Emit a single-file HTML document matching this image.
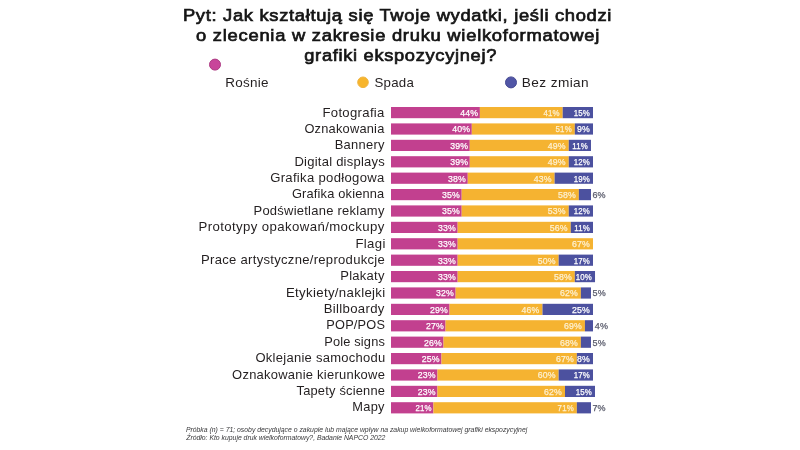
<!DOCTYPE html>
<html><head><meta charset="utf-8"><style>
*{margin:0;padding:0}
html,body{width:800px;height:450px;background:#fff;overflow:hidden}
svg{display:block}
text{font-family:"Liberation Sans",sans-serif}
</style></head><body>
<svg width="800" height="450" viewBox="0 0 800 450">
<rect width="800" height="450" fill="#fff"/>
<circle cx="215" cy="64.6" r="5.5" fill="#c8459a" stroke="#ad3a83" stroke-width="1"/>
<circle cx="363" cy="82.3" r="5.3" fill="#f7b52c" stroke="#f0b440" stroke-width="1"/>
<circle cx="511" cy="82.4" r="5.5" fill="#5156a6" stroke="#474b94" stroke-width="1"/>
<rect x="391.00" y="107.00" width="88.88" height="11.20" fill="#c2408f"/>
<rect x="479.88" y="107.00" width="82.82" height="11.20" fill="#f5b331"/>
<rect x="562.70" y="107.00" width="30.30" height="11.20" fill="#4c519f"/>
<rect x="391.00" y="123.40" width="80.80" height="11.20" fill="#c2408f"/>
<rect x="471.80" y="123.40" width="103.02" height="11.20" fill="#f5b331"/>
<rect x="574.82" y="123.40" width="18.18" height="11.20" fill="#4c519f"/>
<rect x="391.00" y="139.80" width="78.78" height="11.20" fill="#c2408f"/>
<rect x="469.78" y="139.80" width="98.98" height="11.20" fill="#f5b331"/>
<rect x="568.76" y="139.80" width="22.22" height="11.20" fill="#4c519f"/>
<rect x="391.00" y="156.20" width="78.78" height="11.20" fill="#c2408f"/>
<rect x="469.78" y="156.20" width="98.98" height="11.20" fill="#f5b331"/>
<rect x="568.76" y="156.20" width="24.24" height="11.20" fill="#4c519f"/>
<rect x="391.00" y="172.60" width="76.76" height="11.20" fill="#c2408f"/>
<rect x="467.76" y="172.60" width="86.86" height="11.20" fill="#f5b331"/>
<rect x="554.62" y="172.60" width="38.38" height="11.20" fill="#4c519f"/>
<rect x="391.00" y="189.00" width="70.70" height="11.20" fill="#c2408f"/>
<rect x="461.70" y="189.00" width="117.16" height="11.20" fill="#f5b331"/>
<rect x="578.86" y="189.00" width="12.12" height="11.20" fill="#4c519f"/>
<rect x="391.00" y="205.40" width="70.70" height="11.20" fill="#c2408f"/>
<rect x="461.70" y="205.40" width="107.06" height="11.20" fill="#f5b331"/>
<rect x="568.76" y="205.40" width="24.24" height="11.20" fill="#4c519f"/>
<rect x="391.00" y="221.80" width="66.66" height="11.20" fill="#c2408f"/>
<rect x="457.66" y="221.80" width="113.12" height="11.20" fill="#f5b331"/>
<rect x="570.78" y="221.80" width="22.22" height="11.20" fill="#4c519f"/>
<rect x="391.00" y="238.20" width="66.66" height="11.20" fill="#c2408f"/>
<rect x="457.66" y="238.20" width="135.34" height="11.20" fill="#f5b331"/>
<rect x="391.00" y="254.60" width="66.66" height="11.20" fill="#c2408f"/>
<rect x="457.66" y="254.60" width="101.00" height="11.20" fill="#f5b331"/>
<rect x="558.66" y="254.60" width="34.34" height="11.20" fill="#4c519f"/>
<rect x="391.00" y="271.00" width="66.66" height="11.20" fill="#c2408f"/>
<rect x="457.66" y="271.00" width="117.16" height="11.20" fill="#f5b331"/>
<rect x="574.82" y="271.00" width="20.20" height="11.20" fill="#4c519f"/>
<rect x="391.00" y="287.40" width="64.64" height="11.20" fill="#c2408f"/>
<rect x="455.64" y="287.40" width="125.24" height="11.20" fill="#f5b331"/>
<rect x="580.88" y="287.40" width="10.10" height="11.20" fill="#4c519f"/>
<rect x="391.00" y="303.80" width="58.58" height="11.20" fill="#c2408f"/>
<rect x="449.58" y="303.80" width="92.92" height="11.20" fill="#f5b331"/>
<rect x="542.50" y="303.80" width="50.50" height="11.20" fill="#4c519f"/>
<rect x="391.00" y="320.20" width="54.54" height="11.20" fill="#c2408f"/>
<rect x="445.54" y="320.20" width="139.38" height="11.20" fill="#f5b331"/>
<rect x="584.92" y="320.20" width="8.08" height="11.20" fill="#4c519f"/>
<rect x="391.00" y="336.60" width="52.52" height="11.20" fill="#c2408f"/>
<rect x="443.52" y="336.60" width="137.36" height="11.20" fill="#f5b331"/>
<rect x="580.88" y="336.60" width="10.10" height="11.20" fill="#4c519f"/>
<rect x="391.00" y="353.00" width="50.50" height="11.20" fill="#c2408f"/>
<rect x="441.50" y="353.00" width="135.34" height="11.20" fill="#f5b331"/>
<rect x="576.84" y="353.00" width="16.16" height="11.20" fill="#4c519f"/>
<rect x="391.00" y="369.40" width="46.46" height="11.20" fill="#c2408f"/>
<rect x="437.46" y="369.40" width="121.20" height="11.20" fill="#f5b331"/>
<rect x="558.66" y="369.40" width="34.34" height="11.20" fill="#4c519f"/>
<rect x="391.00" y="385.80" width="46.46" height="11.20" fill="#c2408f"/>
<rect x="437.46" y="385.80" width="127.54" height="11.20" fill="#f5b331"/>
<rect x="565.00" y="385.80" width="30.00" height="11.20" fill="#4c519f"/>
<rect x="391.00" y="402.20" width="42.42" height="11.20" fill="#c2408f"/>
<rect x="433.42" y="402.20" width="143.42" height="11.20" fill="#f5b331"/>
<rect x="576.84" y="402.20" width="14.14" height="11.20" fill="#4c519f"/>
<text transform="translate(182.91 20.90) scale(1.0943 1)" font-size="16.80" fill="#151515" letter-spacing="0.618" stroke="#151515" stroke-width="0.70">Pyt: Jak kształtują się Twoje wydatki, jeśli chodzi</text>
<text transform="translate(196.08 41.00) scale(1.0936 1)" font-size="16.80" fill="#151515" letter-spacing="0.674" stroke="#151515" stroke-width="0.70">o zlecenia w zakresie druku wielkoformatowej</text>
<text transform="translate(304.28 61.00) scale(1.0881 1)" font-size="16.80" fill="#151515" letter-spacing="0.627" stroke="#151515" stroke-width="0.70">grafiki ekspozycyjnej?</text>
<text transform="translate(225.15 86.80) scale(1.0369 1)" font-size="13.00" fill="#231f20" letter-spacing="0.277">Rośnie</text>
<text transform="translate(374.48 86.60) scale(1.0232 1)" font-size="13.00" fill="#231f20" letter-spacing="0.212">Spada</text>
<text transform="translate(521.83 86.50) scale(1.0514 1)" font-size="13.00" fill="#231f20" letter-spacing="0.360">Bez zmian</text>
<text transform="translate(322.47 116.60) scale(1.0507 1)" font-size="12.50" fill="#231f20" letter-spacing="0.297">Fotografia</text>
<text transform="translate(304.40 132.97) scale(1.0284 1)" font-size="12.50" fill="#231f20" letter-spacing="0.208">Oznakowania</text>
<text transform="translate(334.74 149.34) scale(1.0348 1)" font-size="12.50" fill="#231f20" letter-spacing="0.255">Bannery</text>
<text transform="translate(294.48 165.71) scale(1.0427 1)" font-size="12.50" fill="#231f20" letter-spacing="0.224">Digital displays</text>
<text transform="translate(270.14 182.08) scale(1.0483 1)" font-size="12.50" fill="#231f20" letter-spacing="0.299">Grafika podłogowa</text>
<text transform="translate(291.90 198.45) scale(1.0285 1)" font-size="12.50" fill="#231f20" letter-spacing="0.172">Grafika okienna</text>
<text transform="translate(253.49 214.82) scale(1.0389 1)" font-size="12.50" fill="#231f20" letter-spacing="0.238">Podświetlane reklamy</text>
<text transform="translate(198.47 231.19) scale(1.0580 1)" font-size="12.50" fill="#231f20" letter-spacing="0.363">Prototypy opakowań/mockupy</text>
<text transform="translate(355.47 247.56) scale(1.0535 1)" font-size="12.50" fill="#231f20" letter-spacing="0.321">Flagi</text>
<text transform="translate(201.08 263.93) scale(1.0473 1)" font-size="12.50" fill="#231f20" letter-spacing="0.269">Prace artystyczne/reprodukcje</text>
<text transform="translate(340.23 280.30) scale(1.0404 1)" font-size="12.50" fill="#231f20" letter-spacing="0.259">Plakaty</text>
<text transform="translate(285.97 296.67) scale(1.0596 1)" font-size="12.50" fill="#231f20" letter-spacing="0.306">Etykiety/naklejki</text>
<text transform="translate(323.67 313.04) scale(1.0546 1)" font-size="12.50" fill="#231f20" letter-spacing="0.310">Billboardy</text>
<text transform="translate(326.30 329.41) scale(1.0222 1)" font-size="12.50" fill="#231f20" letter-spacing="0.198">POP/POS</text>
<text transform="translate(324.20 345.78) scale(1.0266 1)" font-size="12.50" fill="#231f20" letter-spacing="0.162">Pole signs</text>
<text transform="translate(255.49 362.15) scale(1.0399 1)" font-size="12.50" fill="#231f20" letter-spacing="0.253">Oklejanie samochodu</text>
<text transform="translate(232.09 378.52) scale(1.0370 1)" font-size="12.50" fill="#231f20" letter-spacing="0.240">Oznakowanie kierunkowe</text>
<text transform="translate(296.50 394.89) scale(1.0309 1)" font-size="12.50" fill="#231f20" letter-spacing="0.191">Tapety ścienne</text>
<text transform="translate(352.30 411.26) scale(1.0272 1)" font-size="12.50" fill="#231f20" letter-spacing="0.261">Mapy</text>
<text transform="translate(185.89 431.75) scale(0.9968 1)" font-size="6.90" fill="#38383a" letter-spacing="-0.010" font-style="italic">Próbka (n) = 71; osoby decydujące o zakupie lub mające wpływ na zakup wielkoformatowej grafiki ekspozycyjnej</text>
<text transform="translate(186.21 439.50) scale(0.9966 1)" font-size="6.90" fill="#38383a" letter-spacing="-0.012" font-style="italic">Źródło: Kto kupuje druk wielkoformatowy?, Badanie NAPCO 2022</text>
<text x="460.24" y="115.90" font-size="9.0" fill="#ffffff" stroke="#ffffff" stroke-width="0.25" letter-spacing="0.15" textLength="17.92" lengthAdjust="spacingAndGlyphs">44%</text>
<text x="543.48" y="115.90" font-size="9.0" fill="#fdf0d0" stroke="#fdf0d0" stroke-width="0.25" letter-spacing="0.15" textLength="16.18" lengthAdjust="spacingAndGlyphs">41%</text>
<text x="573.78" y="115.90" font-size="9.0" fill="#ffffff" stroke="#ffffff" stroke-width="0.25" letter-spacing="0.15" textLength="16.18" lengthAdjust="spacingAndGlyphs">15%</text>
<text x="452.16" y="132.30" font-size="9.0" fill="#ffffff" stroke="#ffffff" stroke-width="0.25" letter-spacing="0.15" textLength="17.92" lengthAdjust="spacingAndGlyphs">40%</text>
<text x="555.60" y="132.30" font-size="9.0" fill="#fdf0d0" stroke="#fdf0d0" stroke-width="0.25" letter-spacing="0.15" textLength="16.18" lengthAdjust="spacingAndGlyphs">51%</text>
<text x="577.07" y="132.30" font-size="9.0" fill="#ffffff" stroke="#ffffff" stroke-width="0.25" letter-spacing="0.15" textLength="12.92" lengthAdjust="spacingAndGlyphs">9%</text>
<text x="450.14" y="148.70" font-size="9.0" fill="#ffffff" stroke="#ffffff" stroke-width="0.25" letter-spacing="0.15" textLength="17.92" lengthAdjust="spacingAndGlyphs">39%</text>
<text x="547.82" y="148.70" font-size="9.0" fill="#fdf0d0" stroke="#fdf0d0" stroke-width="0.25" letter-spacing="0.15" textLength="17.92" lengthAdjust="spacingAndGlyphs">49%</text>
<text x="572.35" y="148.70" font-size="9.0" fill="#ffffff" stroke="#ffffff" stroke-width="0.25" letter-spacing="0.15" textLength="15.59" lengthAdjust="spacingAndGlyphs">11%</text>
<text x="450.14" y="165.10" font-size="9.0" fill="#ffffff" stroke="#ffffff" stroke-width="0.25" letter-spacing="0.15" textLength="17.92" lengthAdjust="spacingAndGlyphs">39%</text>
<text x="547.82" y="165.10" font-size="9.0" fill="#fdf0d0" stroke="#fdf0d0" stroke-width="0.25" letter-spacing="0.15" textLength="17.92" lengthAdjust="spacingAndGlyphs">49%</text>
<text x="573.78" y="165.10" font-size="9.0" fill="#ffffff" stroke="#ffffff" stroke-width="0.25" letter-spacing="0.15" textLength="16.18" lengthAdjust="spacingAndGlyphs">12%</text>
<text x="448.12" y="181.50" font-size="9.0" fill="#ffffff" stroke="#ffffff" stroke-width="0.25" letter-spacing="0.15" textLength="17.92" lengthAdjust="spacingAndGlyphs">38%</text>
<text x="533.68" y="181.50" font-size="9.0" fill="#fdf0d0" stroke="#fdf0d0" stroke-width="0.25" letter-spacing="0.15" textLength="17.92" lengthAdjust="spacingAndGlyphs">43%</text>
<text x="573.78" y="181.50" font-size="9.0" fill="#ffffff" stroke="#ffffff" stroke-width="0.25" letter-spacing="0.15" textLength="16.18" lengthAdjust="spacingAndGlyphs">19%</text>
<text x="442.06" y="197.90" font-size="9.0" fill="#ffffff" stroke="#ffffff" stroke-width="0.25" letter-spacing="0.15" textLength="17.92" lengthAdjust="spacingAndGlyphs">35%</text>
<text x="557.92" y="197.90" font-size="9.0" fill="#fdf0d0" stroke="#fdf0d0" stroke-width="0.25" letter-spacing="0.15" textLength="17.92" lengthAdjust="spacingAndGlyphs">58%</text>
<text x="592.48" y="197.90" font-size="9.0" fill="#5a5c6c" stroke="#5a5c6c" stroke-width="0.25" letter-spacing="0.15" textLength="13.31" lengthAdjust="spacingAndGlyphs">6%</text>
<text x="442.06" y="214.30" font-size="9.0" fill="#ffffff" stroke="#ffffff" stroke-width="0.25" letter-spacing="0.15" textLength="17.92" lengthAdjust="spacingAndGlyphs">35%</text>
<text x="547.82" y="214.30" font-size="9.0" fill="#fdf0d0" stroke="#fdf0d0" stroke-width="0.25" letter-spacing="0.15" textLength="17.92" lengthAdjust="spacingAndGlyphs">53%</text>
<text x="573.78" y="214.30" font-size="9.0" fill="#ffffff" stroke="#ffffff" stroke-width="0.25" letter-spacing="0.15" textLength="16.18" lengthAdjust="spacingAndGlyphs">12%</text>
<text x="438.02" y="230.70" font-size="9.0" fill="#ffffff" stroke="#ffffff" stroke-width="0.25" letter-spacing="0.15" textLength="17.92" lengthAdjust="spacingAndGlyphs">33%</text>
<text x="549.84" y="230.70" font-size="9.0" fill="#fdf0d0" stroke="#fdf0d0" stroke-width="0.25" letter-spacing="0.15" textLength="17.92" lengthAdjust="spacingAndGlyphs">56%</text>
<text x="574.37" y="230.70" font-size="9.0" fill="#ffffff" stroke="#ffffff" stroke-width="0.25" letter-spacing="0.15" textLength="15.59" lengthAdjust="spacingAndGlyphs">11%</text>
<text x="438.02" y="247.10" font-size="9.0" fill="#ffffff" stroke="#ffffff" stroke-width="0.25" letter-spacing="0.15" textLength="17.92" lengthAdjust="spacingAndGlyphs">33%</text>
<text x="572.06" y="247.10" font-size="9.0" fill="#fdf0d0" stroke="#fdf0d0" stroke-width="0.25" letter-spacing="0.15" textLength="17.92" lengthAdjust="spacingAndGlyphs">67%</text>
<text x="438.02" y="263.50" font-size="9.0" fill="#ffffff" stroke="#ffffff" stroke-width="0.25" letter-spacing="0.15" textLength="17.92" lengthAdjust="spacingAndGlyphs">33%</text>
<text x="537.72" y="263.50" font-size="9.0" fill="#fdf0d0" stroke="#fdf0d0" stroke-width="0.25" letter-spacing="0.15" textLength="17.92" lengthAdjust="spacingAndGlyphs">50%</text>
<text x="573.78" y="263.50" font-size="9.0" fill="#ffffff" stroke="#ffffff" stroke-width="0.25" letter-spacing="0.15" textLength="16.18" lengthAdjust="spacingAndGlyphs">17%</text>
<text x="438.02" y="279.90" font-size="9.0" fill="#ffffff" stroke="#ffffff" stroke-width="0.25" letter-spacing="0.15" textLength="17.92" lengthAdjust="spacingAndGlyphs">33%</text>
<text x="553.88" y="279.90" font-size="9.0" fill="#fdf0d0" stroke="#fdf0d0" stroke-width="0.25" letter-spacing="0.15" textLength="17.92" lengthAdjust="spacingAndGlyphs">58%</text>
<text x="575.80" y="279.90" font-size="9.0" fill="#ffffff" stroke="#ffffff" stroke-width="0.25" letter-spacing="0.15" textLength="16.18" lengthAdjust="spacingAndGlyphs">10%</text>
<text x="436.00" y="296.30" font-size="9.0" fill="#ffffff" stroke="#ffffff" stroke-width="0.25" letter-spacing="0.15" textLength="17.92" lengthAdjust="spacingAndGlyphs">32%</text>
<text x="559.94" y="296.30" font-size="9.0" fill="#fdf0d0" stroke="#fdf0d0" stroke-width="0.25" letter-spacing="0.15" textLength="17.92" lengthAdjust="spacingAndGlyphs">62%</text>
<text x="592.62" y="296.30" font-size="9.0" fill="#5a5c6c" stroke="#5a5c6c" stroke-width="0.25" letter-spacing="0.15" textLength="13.31" lengthAdjust="spacingAndGlyphs">5%</text>
<text x="429.94" y="312.70" font-size="9.0" fill="#ffffff" stroke="#ffffff" stroke-width="0.25" letter-spacing="0.15" textLength="17.92" lengthAdjust="spacingAndGlyphs">29%</text>
<text x="521.56" y="312.70" font-size="9.0" fill="#fdf0d0" stroke="#fdf0d0" stroke-width="0.25" letter-spacing="0.15" textLength="17.92" lengthAdjust="spacingAndGlyphs">46%</text>
<text x="572.06" y="312.70" font-size="9.0" fill="#ffffff" stroke="#ffffff" stroke-width="0.25" letter-spacing="0.15" textLength="17.92" lengthAdjust="spacingAndGlyphs">25%</text>
<text x="425.90" y="329.10" font-size="9.0" fill="#ffffff" stroke="#ffffff" stroke-width="0.25" letter-spacing="0.15" textLength="17.92" lengthAdjust="spacingAndGlyphs">27%</text>
<text x="563.98" y="329.10" font-size="9.0" fill="#fdf0d0" stroke="#fdf0d0" stroke-width="0.25" letter-spacing="0.15" textLength="17.92" lengthAdjust="spacingAndGlyphs">69%</text>
<text x="594.78" y="329.10" font-size="9.0" fill="#5a5c6c" stroke="#5a5c6c" stroke-width="0.25" letter-spacing="0.15" textLength="13.31" lengthAdjust="spacingAndGlyphs">4%</text>
<text x="423.88" y="345.50" font-size="9.0" fill="#ffffff" stroke="#ffffff" stroke-width="0.25" letter-spacing="0.15" textLength="17.92" lengthAdjust="spacingAndGlyphs">26%</text>
<text x="559.94" y="345.50" font-size="9.0" fill="#fdf0d0" stroke="#fdf0d0" stroke-width="0.25" letter-spacing="0.15" textLength="17.92" lengthAdjust="spacingAndGlyphs">68%</text>
<text x="592.62" y="345.50" font-size="9.0" fill="#5a5c6c" stroke="#5a5c6c" stroke-width="0.25" letter-spacing="0.15" textLength="13.31" lengthAdjust="spacingAndGlyphs">5%</text>
<text x="421.86" y="361.90" font-size="9.0" fill="#ffffff" stroke="#ffffff" stroke-width="0.25" letter-spacing="0.15" textLength="17.92" lengthAdjust="spacingAndGlyphs">25%</text>
<text x="555.90" y="361.90" font-size="9.0" fill="#fdf0d0" stroke="#fdf0d0" stroke-width="0.25" letter-spacing="0.15" textLength="17.92" lengthAdjust="spacingAndGlyphs">67%</text>
<text x="577.07" y="361.90" font-size="9.0" fill="#ffffff" stroke="#ffffff" stroke-width="0.25" letter-spacing="0.15" textLength="12.92" lengthAdjust="spacingAndGlyphs">8%</text>
<text x="417.82" y="378.30" font-size="9.0" fill="#ffffff" stroke="#ffffff" stroke-width="0.25" letter-spacing="0.15" textLength="17.92" lengthAdjust="spacingAndGlyphs">23%</text>
<text x="537.72" y="378.30" font-size="9.0" fill="#fdf0d0" stroke="#fdf0d0" stroke-width="0.25" letter-spacing="0.15" textLength="17.92" lengthAdjust="spacingAndGlyphs">60%</text>
<text x="573.78" y="378.30" font-size="9.0" fill="#ffffff" stroke="#ffffff" stroke-width="0.25" letter-spacing="0.15" textLength="16.18" lengthAdjust="spacingAndGlyphs">17%</text>
<text x="417.82" y="394.70" font-size="9.0" fill="#ffffff" stroke="#ffffff" stroke-width="0.25" letter-spacing="0.15" textLength="17.92" lengthAdjust="spacingAndGlyphs">23%</text>
<text x="544.06" y="394.70" font-size="9.0" fill="#fdf0d0" stroke="#fdf0d0" stroke-width="0.25" letter-spacing="0.15" textLength="17.92" lengthAdjust="spacingAndGlyphs">62%</text>
<text x="575.78" y="394.70" font-size="9.0" fill="#ffffff" stroke="#ffffff" stroke-width="0.25" letter-spacing="0.15" textLength="16.18" lengthAdjust="spacingAndGlyphs">15%</text>
<text x="415.50" y="411.10" font-size="9.0" fill="#ffffff" stroke="#ffffff" stroke-width="0.25" letter-spacing="0.15" textLength="16.18" lengthAdjust="spacingAndGlyphs">21%</text>
<text x="557.62" y="411.10" font-size="9.0" fill="#fdf0d0" stroke="#fdf0d0" stroke-width="0.25" letter-spacing="0.15" textLength="16.18" lengthAdjust="spacingAndGlyphs">71%</text>
<text x="592.48" y="411.10" font-size="9.0" fill="#5a5c6c" stroke="#5a5c6c" stroke-width="0.25" letter-spacing="0.15" textLength="13.31" lengthAdjust="spacingAndGlyphs">7%</text>
</svg></body></html>
